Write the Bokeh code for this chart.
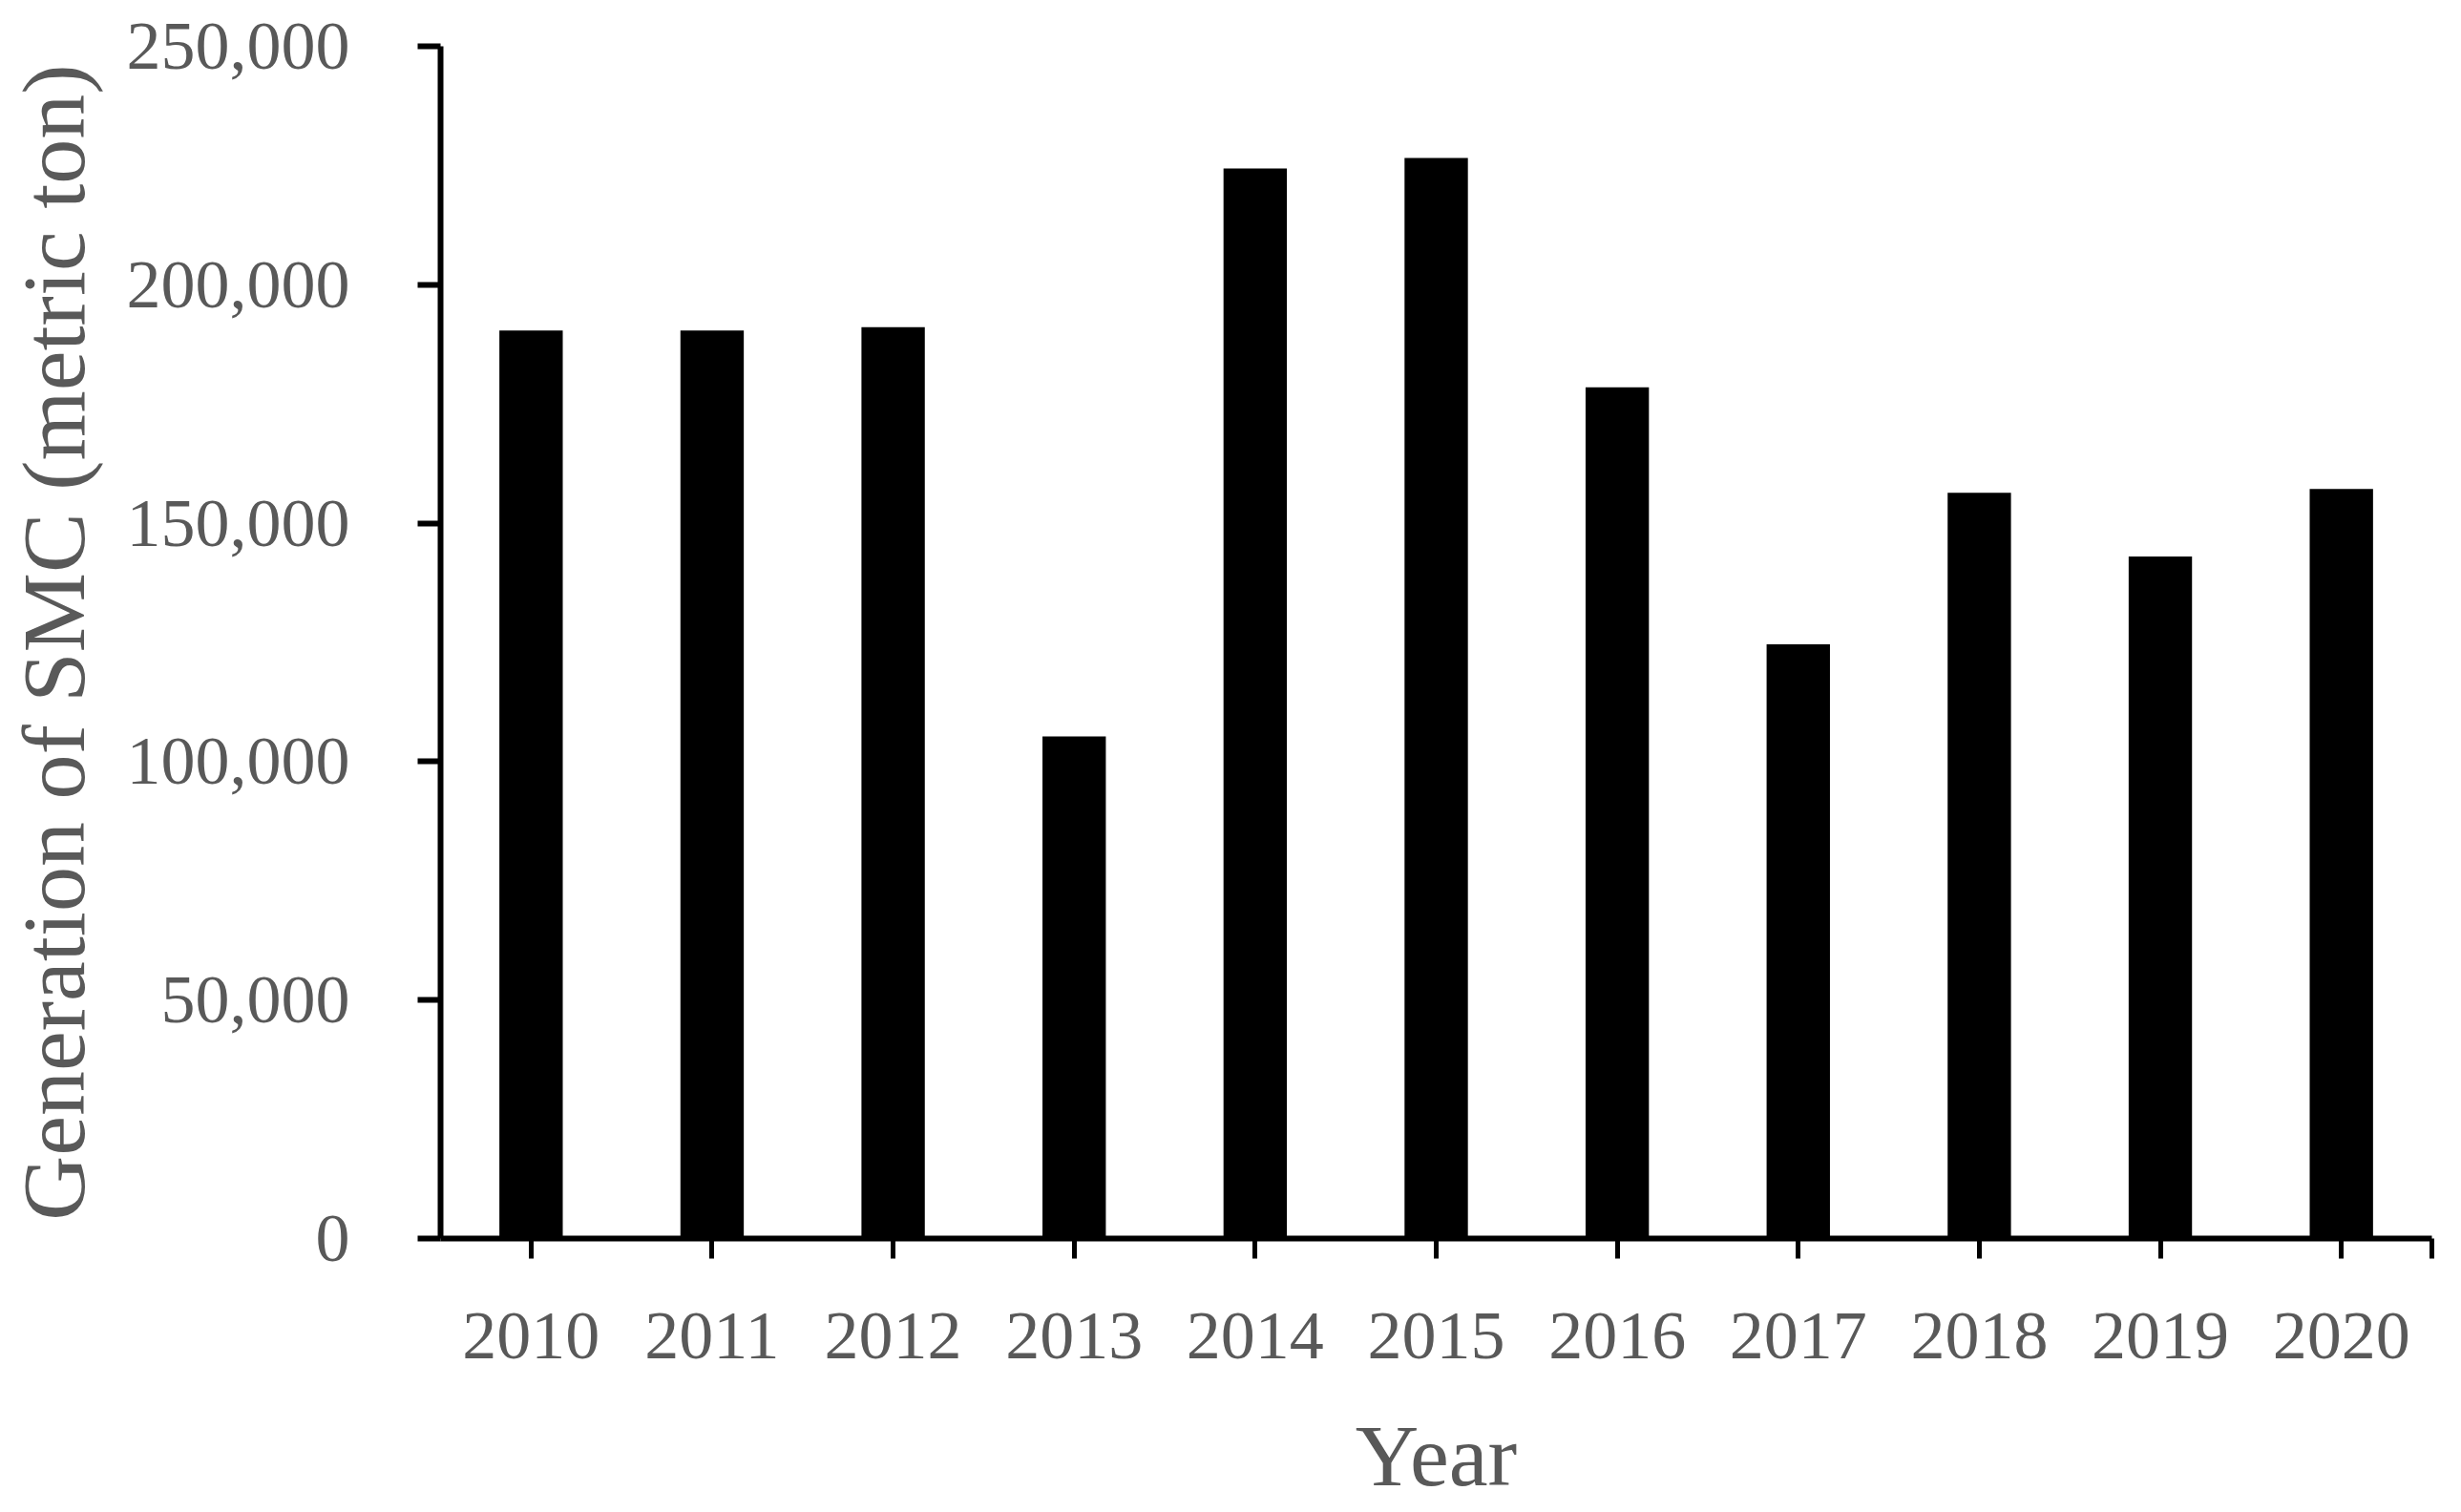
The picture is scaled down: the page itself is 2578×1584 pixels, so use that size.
from bokeh.plotting import figure
from bokeh.models import FixedTicker, Range1d, NumeralTickFormatter
from bokeh.embed import file_html
from bokeh.resources import INLINE

years = ["2010", "2011", "2012", "2013", "2014", "2015", "2016", "2017", "2018", "2019", "2020"]
smc = [190400, 190400, 191100, 105300, 224400, 226600, 178500, 124600, 156400, 143000, 157200]
y_ticks = [0, 50000, 100000, 150000, 200000, 250000]

x_title = "Year"
y_title = "Generation of SMC (metric ton)"

FONT = "Liberation Serif"
GREY = "#595959"

xs = [i + 0.5 for i in range(len(years))]

p = figure(width=2578, height=1584, output_backend="svg", toolbar_location=None,
           x_range=Range1d(0, len(years)), y_range=Range1d(0, 250000),
           min_border_left=461, min_border_right=31, min_border_top=48, min_border_bottom=287)

p.vbar(x=xs, top=smc, width=0.35, fill_color="black", line_color=None)

p.xgrid.grid_line_color = None
p.ygrid.grid_line_color = None
p.outline_line_color = None
p.background_fill_color = "white"
p.border_fill_color = "white"

xa = p.xaxis[0]
xa.ticker = FixedTicker(ticks=xs + [len(years)])
overrides = {x: y for x, y in zip(xs, years)}
overrides[len(years)] = ""
xa.major_label_overrides = overrides
xa.axis_line_width = 6
xa.axis_line_color = "black"
xa.major_tick_line_width = 5
xa.major_tick_line_color = "black"
xa.major_tick_out = 21
xa.major_tick_in = 0
xa.minor_tick_line_color = None
xa.major_label_standoff = 57
xa.major_label_text_font = FONT
xa.major_label_text_font_size = "72px"
xa.major_label_text_color = GREY
xa.axis_label = x_title
xa.axis_label_text_font = FONT
xa.axis_label_text_font_size = "92px"
xa.axis_label_text_font_style = "normal"
xa.axis_label_text_color = GREY
xa.axis_label_standoff = 48

ya = p.yaxis[0]
ya.ticker = FixedTicker(ticks=y_ticks)
ya.formatter = NumeralTickFormatter(format="0,0")
ya.axis_line_width = 6
ya.axis_line_color = "black"
ya.major_tick_line_width = 6
ya.major_tick_line_color = "black"
ya.major_tick_out = 24
ya.major_tick_in = 0
ya.minor_tick_line_color = None
ya.major_label_standoff = 71
ya.major_label_text_font = FONT
ya.major_label_text_font_size = "72px"
ya.major_label_text_color = GREY
ya.axis_label = y_title
ya.axis_label_text_font = FONT
ya.axis_label_text_font_size = "94px"
ya.axis_label_text_font_style = "normal"
ya.axis_label_text_color = GREY
ya.axis_label_standoff = 22

open("out.html", "w").write(file_html(p, INLINE))
